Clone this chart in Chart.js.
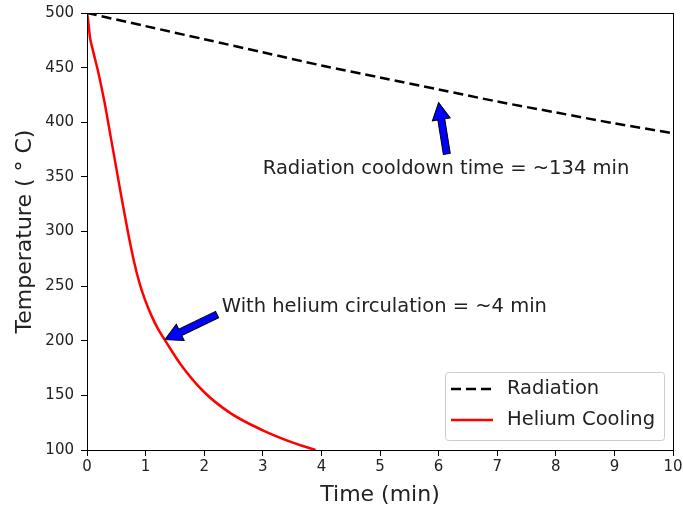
<!DOCTYPE html>
<html>
<head>
<meta charset="utf-8">
<script src="https://cdn.jsdelivr.net/npm/chart.js@4.4.1/dist/chart.umd.min.js"></script>
<style>
  html, body { margin: 0; padding: 0; background: #fff; }
  #wrap { width: 683px; height: 510px; }
</style>
</head>
<body>
<div id="wrap"><canvas id="coolingChart" width="683" height="510"></canvas></div>
<script>
// Radiation cooldown (time in min, temperature in C)
const radiationTime = [0, 1, 2, 3, 4, 5, 6, 7, 8, 9, 10];
const radiationTemp = [500, 488, 476, 464, 452, 441, 430, 419, 409, 399, 390];

// Helium cooling curve
const heliumTime = [0, 0.02, 0.05, 0.1, 0.2, 0.3, 0.4, 0.5, 0.6, 0.7, 0.8, 0.9, 1.0, 1.1, 1.2, 1.36, 1.59, 1.98, 2.44, 3.0, 3.5, 3.9];
const heliumTemp = [500, 493, 478, 466, 444, 418, 388, 358, 328, 299, 273, 252, 236, 223, 212, 198, 179, 154, 134, 118, 107, 100];

const xTicks = [0, 1, 2, 3, 4, 5, 6, 7, 8, 9, 10];
const yTicks = [100, 150, 200, 250, 300, 350, 400, 450, 500];

// annotations: text position and arrow (tail -> head) in data units
const notes = [
    { text: "Radiation cooldown time = ~134 min", x: 3.0, y: 357, tail: [6.14, 371], head: [6.0, 418] },
    { text: "With helium circulation = ~4 min", x: 2.3, y: 231, tail: [2.22, 224], head: [1.33, 201] }
];

const FONT = "'DejaVu Sans', sans-serif";

function toPoints(xs, ys) {
    return xs.map((x, i) => ({ x: x, y: ys[i] }));
}

// draws top/right spines, annotations and legend box
const extrasPlugin = {
    id: "extras",
    afterDraw(chart) {
        const ctx = chart.ctx;
        const area = chart.chartArea;
        const xs = chart.scales.x, ys = chart.scales.y;

        ctx.save();
        ctx.strokeStyle = "#000";
        ctx.lineWidth = 1;
        ctx.strokeRect(area.left + 0.5, area.top + 0.5, area.right - area.left, area.bottom - area.top);

        // annotations
        ctx.font = "19.5px " + FONT;
        ctx.fillStyle = "#222";
        ctx.textBaseline = "middle";
        ctx.textAlign = "left";
        notes.forEach(n => {
            ctx.fillText(n.text, xs.getPixelForValue(n.x), ys.getPixelForValue(n.y));
            drawArrow(ctx,
                xs.getPixelForValue(n.tail[0]), ys.getPixelForValue(n.tail[1]),
                xs.getPixelForValue(n.head[0]), ys.getPixelForValue(n.head[1]));
        });

        // legend
        const bx = 445, by = 372, bw = 219, bh = 68;
        ctx.fillStyle = "rgba(255,255,255,0.8)";
        ctx.strokeStyle = "#ccc";
        ctx.lineWidth = 1;
        roundRect(ctx, bx + 0.5, by + 0.5, bw, bh, 3);
        ctx.fill();
        ctx.stroke();
        ctx.font = "19.5px " + FONT;
        chart.data.datasets.forEach((ds, i) => {
            const ly = by + 17 + i * 31;
            ctx.strokeStyle = ds.borderColor;
            ctx.lineWidth = 2.5;
            ctx.setLineDash(ds.borderDash || []);
            ctx.beginPath();
            ctx.moveTo(bx + 6, ly);
            ctx.lineTo(bx + 48, ly);
            ctx.stroke();
            ctx.setLineDash([]);
            ctx.fillStyle = "#222";
            ctx.fillText(ds.label, bx + 62, ly);
        });
        ctx.restore();
    }
};

function roundRect(ctx, x, y, w, h, r) {
    ctx.beginPath();
    ctx.moveTo(x + r, y);
    ctx.lineTo(x + w - r, y);
    ctx.quadraticCurveTo(x + w, y, x + w, y + r);
    ctx.lineTo(x + w, y + h - r);
    ctx.quadraticCurveTo(x + w, y + h, x + w - r, y + h);
    ctx.lineTo(x + r, y + h);
    ctx.quadraticCurveTo(x, y + h, x, y + h - r);
    ctx.lineTo(x, y + r);
    ctx.quadraticCurveTo(x, y, x + r, y);
    ctx.closePath();
}

function drawArrow(ctx, x1, y1, x2, y2) {
    // blue block arrow with black outline
    const ang = Math.atan2(y2 - y1, x2 - x1);
    const len = Math.hypot(x2 - x1, y2 - y1);
    const sw = 3.5, hw = 9, hl = 17;
    ctx.save();
    ctx.translate(x1, y1);
    ctx.rotate(ang);
    ctx.beginPath();
    ctx.moveTo(0, -sw);
    ctx.lineTo(len - hl, -sw);
    ctx.lineTo(len - hl, -hw);
    ctx.lineTo(len, 0);
    ctx.lineTo(len - hl, hw);
    ctx.lineTo(len - hl, sw);
    ctx.lineTo(0, sw);
    ctx.closePath();
    ctx.fillStyle = "#0000ff";
    ctx.fill();
    ctx.lineWidth = 1;
    ctx.strokeStyle = "#000";
    ctx.stroke();
    ctx.restore();
}

const ctx = document.getElementById("coolingChart").getContext("2d");
const coolingChart = new Chart(ctx, {
    type: "scatter",
    data: {
        datasets: [
            {
                label: "Radiation",
                data: toPoints(radiationTime, radiationTemp),
                showLine: true,
                borderColor: "#000",
                borderWidth: 2.5,
                borderDash: [10, 5],
                pointRadius: 0,
                tension: 0.3
            },
            {
                label: "Helium Cooling",
                data: toPoints(heliumTime, heliumTemp),
                showLine: true,
                borderColor: "#ff0000",
                borderWidth: 2.5,
                pointRadius: 0,
                cubicInterpolationMode: "monotone"
            }
        ]
    },
    options: {
        responsive: false,
        animation: false,
        layout: { padding: { left: 0, right: 10, top: 13, bottom: 0 } },
        plugins: {
            legend: { display: false },
            tooltip: { enabled: false }
        },
        scales: {
            x: {
                type: "linear",
                min: 0,
                max: 10,
                afterBuildTicks: axis => { axis.ticks = xTicks.map(v => ({ value: v })); },
                afterFit: axis => { axis.height = 60; axis.paddingRight = 0; axis.paddingLeft = 0; },
                grid: { drawOnChartArea: false, drawTicks: true, tickLength: 6, tickColor: "#000" },
                border: { display: true, color: "#000", width: 1 },
                ticks: { color: "#222", font: { family: FONT, size: 15 }, padding: 2, maxRotation: 0 },
                title: { display: true, text: "Time (min)", color: "#222", font: { family: FONT, size: 22 }, padding: { top: 0, bottom: 2 } }
            },
            y: {
                type: "linear",
                min: 100,
                max: 500,
                afterBuildTicks: axis => { axis.ticks = yTicks.map(v => ({ value: v })); },
                afterFit: axis => { axis.width = 87; axis.paddingTop = 0; axis.paddingBottom = 0; },
                grid: { drawOnChartArea: false, drawTicks: true, tickLength: 6, tickColor: "#000" },
                border: { display: true, color: "#000", width: 1 },
                ticks: { color: "#222", font: { family: FONT, size: 15 }, padding: 7 },
                title: { display: true, text: "Temperature ( \u00b0 C)", color: "#222", font: { family: FONT, size: 22 }, padding: { top: 12, bottom: 0 } }
            }
        }
    },
    plugins: [extrasPlugin]
});
</script>
</body>
</html>
